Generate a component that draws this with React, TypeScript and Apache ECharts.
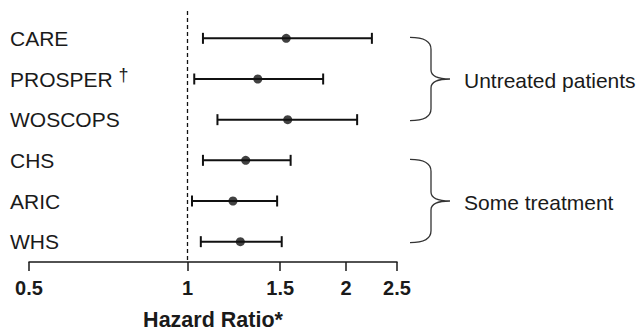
import React, { useEffect, useRef } from "react";
import * as echarts from "echarts";

const categories = ["CARE", "PROSPER", "WOSCOPS", "CHS", "ARIC", "WHS"];
const hazardRatio = [1.54, 1.36, 1.55, 1.29, 1.22, 1.26];
const ciLow = [1.07, 1.03, 1.14, 1.07, 1.02, 1.06];
const ciHigh = [2.24, 1.81, 2.1, 1.57, 1.48, 1.51];
const tickValues = [0.5, 1, 1.5, 2, 2.5];
const tickLabels = ["0.5", "1", "1.5", "2", "2.5"];
const referenceValue = 1;
const groupLabels = ["Untreated patients", "Some treatment"];
const groupFirst = ["CARE", "CHS"];
const groupLast = ["WOSCOPS", "WHS"];

const FONT = "'Liberation Sans', Arial, Helvetica, sans-serif";
const INK = "#1a1a1a";

const BRACE_D =
  "M0,0 C13,0 21,3 21,12 L21,33 C21,39 27,42 40,42 C27,42 21,45 21,51 L21,72 C21,81 13,84 0,84";

let braceRegistered = false;
function registerBrace() {
  if (braceRegistered) return;
  echarts.graphic.registerShape("brace", echarts.graphic.extendPath(BRACE_D, {}));
  braceRegistered = true;
}

export default function App() {
  const ref = useRef<HTMLDivElement>(null);

  useEffect(() => {
    document.body.style.margin = "0";
    registerBrace();
    const chart = echarts.init(ref.current!, null, { renderer: "svg" });
    const log = (v: number) => Math.log10(v);
    const tickLogs = tickValues.map(log);

    chart.setOption({
      animation: false,
      grid: { left: 29, top: 18, width: 368, height: 244, outerBoundsMode: "none" },
      xAxis: {
        type: "value",
        min: log(tickValues[0]),
        max: log(tickValues[tickValues.length - 1]),
        splitLine: { show: false },
        axisLine: { show: true, lineStyle: { color: INK, width: 1.5 } },
        axisTick: {
          show: true,
          customValues: tickLogs,
          length: 9,
          lineStyle: { color: INK, width: 1.5 },
        },
        axisLabel: {
          customValues: tickLogs,
          formatter: (v: number) => {
            let best = 0;
            tickLogs.forEach((t, i) => {
              if (Math.abs(t - v) < Math.abs(tickLogs[best] - v)) best = i;
            });
            return tickLabels[best];
          },
          fontFamily: FONT,
          fontWeight: "bold",
          fontSize: 20,
          color: INK,
          margin: 16,
        },
        name: "Hazard Ratio*",
        nameLocation: "middle",
        nameGap: 47,
        nameTextStyle: { fontFamily: FONT, fontWeight: "bold", fontSize: 21.5, color: INK },
      },
      yAxis: {
        type: "category",
        data: categories,
        inverse: true,
        axisLine: { show: false },
        axisTick: { show: false },
        splitLine: { show: false },
        axisLabel: {
          align: "left",
          margin: 19,
          fontFamily: FONT,
          fontSize: 21,
          color: INK,
          formatter: (v: string) => (v === "PROSPER" ? "PROSPER {sup|†}" : v),
          rich: {
            sup: { fontFamily: FONT, fontSize: 18, color: INK, padding: [0, 0, 8, 0] },
          },
        },
      },
      series: [
        {
          type: "custom",
          data: categories.map((c, i) => [log(ciLow[i]), log(ciHigh[i]), i]),
          encode: { x: [0, 1], y: 2 },
          renderItem: (params: any, api: any) => {
            const idx = api.value(2);
            const p1 = api.coord([api.value(0), idx]);
            const p2 = api.coord([api.value(1), idx]);
            const cap = 5.5;
            const style = { stroke: "#111", lineWidth: 2 };
            return {
              type: "group",
              children: [
                { type: "line", shape: { x1: p1[0], y1: p1[1], x2: p2[0], y2: p2[1] }, style },
                { type: "line", shape: { x1: p1[0], y1: p1[1] - cap, x2: p1[0], y2: p1[1] + cap }, style },
                { type: "line", shape: { x1: p2[0], y1: p2[1] - cap, x2: p2[0], y2: p2[1] + cap }, style },
              ],
            };
          },
          silent: true,
          z: 2,
        },
        {
          type: "scatter",
          data: categories.map((c, i) => [log(hazardRatio[i]), c]),
          symbol: "circle",
          symbolSize: 9,
          itemStyle: { color: "#111" },
          z: 3,
          silent: true,
          markLine: {
            silent: true,
            symbol: ["none", "none"],
            label: { show: false },
            lineStyle: { color: "#111", width: 1.3, type: [4, 3] },
            data: [[{ xAxis: log(referenceValue), y: 11 }, { xAxis: log(referenceValue), y: 262 }]],
          },
        },
      ],
    });

    const graphics: any[] = [];
    groupLabels.forEach((label, g) => {
      const yTop = chart.convertToPixel({ yAxisIndex: 0 }, groupFirst[g]) as number;
      const yBot = chart.convertToPixel({ yAxisIndex: 0 }, groupLast[g]) as number;
      const top = yTop - 1;
      const h = yBot - yTop + 2;
      graphics.push({
        type: "brace",
        x: 410,
        y: top,
        scaleX: 1,
        scaleY: h / 84,
        style: { stroke: "#333", fill: "none", lineWidth: 1.3, strokeNoScale: true },
        silent: true,
      });
      graphics.push({
        type: "text",
        x: 464,
        y: (yTop + yBot) / 2 + 1,
        style: {
          text: label,
          fontFamily: FONT,
          fontSize: 21,
          fill: INK,
          verticalAlign: "middle",
          align: "left",
        },
        silent: true,
      });
    });
    chart.setOption({ graphic: graphics });

    return () => chart.dispose();
  }, []);

  return <div ref={ref} style={{ width: 644, height: 331 }} />;
}
